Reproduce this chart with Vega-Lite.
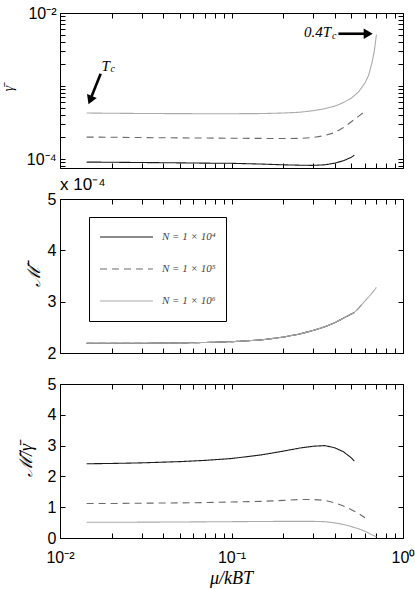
{
 "$schema": "https://vega.github.io/schema/vega-lite/v6.json",
 "background": "white",
 "padding": {"left": 0, "top": 4, "right": 0, "bottom": 0},
 "config": {
  "view": {"stroke": "black", "strokeWidth": 1},
  "axis": {"domain": false, "grid": false, "tickColor": "black", "tickSize": -5, "tickWidth": 1, "labelFont": "Liberation Sans", "labelFontSize": 16, "labelColor": "black", "labelPadding": 9, "titleFont": "Liberation Serif", "titleFontStyle": "italic", "titleFontWeight": "normal", "titleColor": "black", "labelFlush": false, "labelOverlap": false},
  "line": {"strokeWidth": 1.1}
 },
 "datasets": {
  "gam": [
   {"mu":0.0143,"N":"N = 1 × 10⁴","v":9.1e-5},{"mu":0.02,"N":"N = 1 × 10⁴","v":9.05e-5},{"mu":0.03,"N":"N = 1 × 10⁴","v":8.97e-5},{"mu":0.05,"N":"N = 1 × 10⁴","v":8.88e-5},{"mu":0.07,"N":"N = 1 × 10⁴","v":8.8e-5},{"mu":0.1,"N":"N = 1 × 10⁴","v":8.75e-5},{"mu":0.15,"N":"N = 1 × 10⁴","v":8.55e-5},{"mu":0.2,"N":"N = 1 × 10⁴","v":8.35e-5},{"mu":0.25,"N":"N = 1 × 10⁴","v":8.25e-5},{"mu":0.3,"N":"N = 1 × 10⁴","v":8.2e-5},{"mu":0.35,"N":"N = 1 × 10⁴","v":8.35e-5},{"mu":0.4,"N":"N = 1 × 10⁴","v":8.8e-5},{"mu":0.45,"N":"N = 1 × 10⁴","v":9.5e-5},{"mu":0.5,"N":"N = 1 × 10⁴","v":1.06e-4},{"mu":0.52,"N":"N = 1 × 10⁴","v":1.13e-4},
   {"mu":0.0143,"N":"N = 1 × 10⁵","v":2.0e-4},{"mu":0.02,"N":"N = 1 × 10⁵","v":1.99e-4},{"mu":0.03,"N":"N = 1 × 10⁵","v":1.97e-4},{"mu":0.05,"N":"N = 1 × 10⁵","v":1.95e-4},{"mu":0.07,"N":"N = 1 × 10⁵","v":1.94e-4},{"mu":0.1,"N":"N = 1 × 10⁵","v":1.93e-4},{"mu":0.15,"N":"N = 1 × 10⁵","v":1.92e-4},{"mu":0.2,"N":"N = 1 × 10⁵","v":1.91e-4},{"mu":0.25,"N":"N = 1 × 10⁵","v":1.92e-4},{"mu":0.3,"N":"N = 1 × 10⁵","v":1.98e-4},{"mu":0.35,"N":"N = 1 × 10⁵","v":2.1e-4},{"mu":0.4,"N":"N = 1 × 10⁵","v":2.3e-4},{"mu":0.45,"N":"N = 1 × 10⁵","v":2.7e-4},{"mu":0.5,"N":"N = 1 × 10⁵","v":3.25e-4},{"mu":0.55,"N":"N = 1 × 10⁵","v":3.85e-4},{"mu":0.6,"N":"N = 1 × 10⁵","v":4.5e-4},
   {"mu":0.0143,"N":"N = 1 × 10⁶","v":4.27e-4},{"mu":0.02,"N":"N = 1 × 10⁶","v":4.24e-4},{"mu":0.03,"N":"N = 1 × 10⁶","v":4.21e-4},{"mu":0.05,"N":"N = 1 × 10⁶","v":4.19e-4},{"mu":0.07,"N":"N = 1 × 10⁶","v":4.18e-4},{"mu":0.1,"N":"N = 1 × 10⁶","v":4.18e-4},{"mu":0.15,"N":"N = 1 × 10⁶","v":4.2e-4},{"mu":0.2,"N":"N = 1 × 10⁶","v":4.27e-4},{"mu":0.25,"N":"N = 1 × 10⁶","v":4.38e-4},{"mu":0.3,"N":"N = 1 × 10⁶","v":4.6e-4},{"mu":0.35,"N":"N = 1 × 10⁶","v":4.9e-4},{"mu":0.4,"N":"N = 1 × 10⁶","v":5.3e-4},{"mu":0.45,"N":"N = 1 × 10⁶","v":5.95e-4},{"mu":0.5,"N":"N = 1 × 10⁶","v":6.85e-4},{"mu":0.55,"N":"N = 1 × 10⁶","v":8.3e-4},{"mu":0.6,"N":"N = 1 × 10⁶","v":1.1e-3},{"mu":0.63,"N":"N = 1 × 10⁶","v":1.4e-3},{"mu":0.66,"N":"N = 1 × 10⁶","v":2.1e-3},{"mu":0.68,"N":"N = 1 × 10⁶","v":3.0e-3},{"mu":0.69,"N":"N = 1 × 10⁶","v":3.9e-3},{"mu":0.7,"N":"N = 1 × 10⁶","v":5.05e-3}
  ],
  "mm": [
   {"mu":0.0143,"N":"N = 1 × 10⁴","v":2.19},{"mu":0.02,"N":"N = 1 × 10⁴","v":2.19},{"mu":0.03,"N":"N = 1 × 10⁴","v":2.19},{"mu":0.05,"N":"N = 1 × 10⁴","v":2.195},{"mu":0.07,"N":"N = 1 × 10⁴","v":2.205},{"mu":0.1,"N":"N = 1 × 10⁴","v":2.22},{"mu":0.15,"N":"N = 1 × 10⁴","v":2.255},{"mu":0.2,"N":"N = 1 × 10⁴","v":2.31},{"mu":0.25,"N":"N = 1 × 10⁴","v":2.37},{"mu":0.3,"N":"N = 1 × 10⁴","v":2.44},{"mu":0.35,"N":"N = 1 × 10⁴","v":2.51},{"mu":0.4,"N":"N = 1 × 10⁴","v":2.59},{"mu":0.45,"N":"N = 1 × 10⁴","v":2.68},{"mu":0.5,"N":"N = 1 × 10⁴","v":2.76},{"mu":0.52,"N":"N = 1 × 10⁴","v":2.79},
   {"mu":0.0143,"N":"N = 1 × 10⁵","v":2.19},{"mu":0.02,"N":"N = 1 × 10⁵","v":2.19},{"mu":0.03,"N":"N = 1 × 10⁵","v":2.19},{"mu":0.05,"N":"N = 1 × 10⁵","v":2.195},{"mu":0.07,"N":"N = 1 × 10⁵","v":2.205},{"mu":0.1,"N":"N = 1 × 10⁵","v":2.22},{"mu":0.15,"N":"N = 1 × 10⁵","v":2.255},{"mu":0.2,"N":"N = 1 × 10⁵","v":2.31},{"mu":0.25,"N":"N = 1 × 10⁵","v":2.37},{"mu":0.3,"N":"N = 1 × 10⁵","v":2.44},{"mu":0.35,"N":"N = 1 × 10⁵","v":2.51},{"mu":0.4,"N":"N = 1 × 10⁵","v":2.59},{"mu":0.45,"N":"N = 1 × 10⁵","v":2.68},{"mu":0.5,"N":"N = 1 × 10⁵","v":2.76},{"mu":0.52,"N":"N = 1 × 10⁵","v":2.79},{"mu":0.55,"N":"N = 1 × 10⁵","v":2.87},{"mu":0.6,"N":"N = 1 × 10⁵","v":3.01},
   {"mu":0.0143,"N":"N = 1 × 10⁶","v":2.19},{"mu":0.02,"N":"N = 1 × 10⁶","v":2.19},{"mu":0.03,"N":"N = 1 × 10⁶","v":2.19},{"mu":0.05,"N":"N = 1 × 10⁶","v":2.195},{"mu":0.07,"N":"N = 1 × 10⁶","v":2.205},{"mu":0.1,"N":"N = 1 × 10⁶","v":2.22},{"mu":0.15,"N":"N = 1 × 10⁶","v":2.255},{"mu":0.2,"N":"N = 1 × 10⁶","v":2.31},{"mu":0.25,"N":"N = 1 × 10⁶","v":2.37},{"mu":0.3,"N":"N = 1 × 10⁶","v":2.44},{"mu":0.35,"N":"N = 1 × 10⁶","v":2.51},{"mu":0.4,"N":"N = 1 × 10⁶","v":2.59},{"mu":0.45,"N":"N = 1 × 10⁶","v":2.68},{"mu":0.5,"N":"N = 1 × 10⁶","v":2.76},{"mu":0.52,"N":"N = 1 × 10⁶","v":2.79},{"mu":0.55,"N":"N = 1 × 10⁶","v":2.87},{"mu":0.6,"N":"N = 1 × 10⁶","v":3.01},{"mu":0.65,"N":"N = 1 × 10⁶","v":3.14},{"mu":0.7,"N":"N = 1 × 10⁶","v":3.28}
  ],
  "rat": [
   {"mu":0.0143,"N":"N = 1 × 10⁴","v":2.41},{"mu":0.02,"N":"N = 1 × 10⁴","v":2.42},{"mu":0.03,"N":"N = 1 × 10⁴","v":2.44},{"mu":0.05,"N":"N = 1 × 10⁴","v":2.48},{"mu":0.07,"N":"N = 1 × 10⁴","v":2.52},{"mu":0.1,"N":"N = 1 × 10⁴","v":2.58},{"mu":0.15,"N":"N = 1 × 10⁴","v":2.7},{"mu":0.2,"N":"N = 1 × 10⁴","v":2.82},{"mu":0.25,"N":"N = 1 × 10⁴","v":2.92},{"mu":0.3,"N":"N = 1 × 10⁴","v":2.98},{"mu":0.35,"N":"N = 1 × 10⁴","v":3.0},{"mu":0.4,"N":"N = 1 × 10⁴","v":2.93},{"mu":0.45,"N":"N = 1 × 10⁴","v":2.8},{"mu":0.5,"N":"N = 1 × 10⁴","v":2.6},{"mu":0.52,"N":"N = 1 × 10⁴","v":2.5},
   {"mu":0.0143,"N":"N = 1 × 10⁵","v":1.12},{"mu":0.02,"N":"N = 1 × 10⁵","v":1.12},{"mu":0.03,"N":"N = 1 × 10⁵","v":1.13},{"mu":0.05,"N":"N = 1 × 10⁵","v":1.14},{"mu":0.07,"N":"N = 1 × 10⁵","v":1.15},{"mu":0.1,"N":"N = 1 × 10⁵","v":1.17},{"mu":0.15,"N":"N = 1 × 10⁵","v":1.19},{"mu":0.2,"N":"N = 1 × 10⁵","v":1.22},{"mu":0.25,"N":"N = 1 × 10⁵","v":1.25},{"mu":0.3,"N":"N = 1 × 10⁵","v":1.25},{"mu":0.35,"N":"N = 1 × 10⁵","v":1.22},{"mu":0.4,"N":"N = 1 × 10⁵","v":1.14},{"mu":0.45,"N":"N = 1 × 10⁵","v":1.04},{"mu":0.5,"N":"N = 1 × 10⁵","v":0.92},{"mu":0.55,"N":"N = 1 × 10⁵","v":0.8},{"mu":0.6,"N":"N = 1 × 10⁵","v":0.66},
   {"mu":0.0143,"N":"N = 1 × 10⁶","v":0.51},{"mu":0.02,"N":"N = 1 × 10⁶","v":0.51},{"mu":0.05,"N":"N = 1 × 10⁶","v":0.52},{"mu":0.1,"N":"N = 1 × 10⁶","v":0.53},{"mu":0.2,"N":"N = 1 × 10⁶","v":0.54},{"mu":0.3,"N":"N = 1 × 10⁶","v":0.54},{"mu":0.35,"N":"N = 1 × 10⁶","v":0.53},{"mu":0.4,"N":"N = 1 × 10⁶","v":0.49},{"mu":0.45,"N":"N = 1 × 10⁶","v":0.44},{"mu":0.5,"N":"N = 1 × 10⁶","v":0.37},{"mu":0.55,"N":"N = 1 × 10⁶","v":0.3},{"mu":0.6,"N":"N = 1 × 10⁶","v":0.22},{"mu":0.63,"N":"N = 1 × 10⁶","v":0.16},{"mu":0.66,"N":"N = 1 × 10⁶","v":0.1},{"mu":0.7,"N":"N = 1 × 10⁶","v":0.04}
  ],
  "arrows": [{"x":0.01726,"y":0.001476,"x2":0.01505,"y2":0.00066},{"x":0.42,"y":0.0052,"x2":0.62,"y2":0.0052}],
  "heads": [{"x":0.0150,"y":0.000641,"ang":202},{"x":0.627,"y":0.0052,"ang":90}],
  "annmain": [{"x":0.01847,"y":0.0019,"t":"T"},{"x":0.318,"y":0.00542,"t":"0.4T"}],
  "annsub": [{"x":0.0203,"y":0.00172,"t":"c"},{"x":0.397,"y":0.00488,"t":"c"}]
 },
 "spacing": 31,
 "bounds": "flush",
 "resolve": {"scale": {"color": "independent", "strokeDash": "independent"}, "legend": {"color": "independent", "strokeDash": "independent"}},
 "vconcat": [
  {
   "width": 343, "height": 155,
   "resolve": {"axis": {"x": "independent", "y": "independent"}},
   "layer": [
    {
     "data": {"name": "gam"},
     "mark": {"type": "line"},
     "encoding": {
      "x": {"field": "mu", "type": "quantitative", "scale": {"type": "log", "domain": [0.01, 1], "nice": false}, "axis": {"values": [0.01,0.02,0.03,0.04,0.05,0.06,0.07,0.08,0.09,0.1,0.2,0.3,0.4,0.5,0.6,0.7,0.8,0.9,1], "labels": false, "title": null}},
      "y": {"field": "v", "type": "quantitative", "scale": {"type": "log", "domain": [7.55e-5, 0.01], "nice": false}, "axis": {"values": [8e-5,9e-5,1e-4,2e-4,3e-4,4e-4,5e-4,6e-4,7e-4,8e-4,9e-4,1e-3,2e-3,3e-3,4e-3,5e-3,6e-3,7e-3,8e-3,9e-3,1e-2], "labelExpr": "datum.value == 0.01 ? '10⁻²' : datum.value == 0.0001 ? '10⁻⁴' : ''", "title": "γ̄", "titleFontSize": 14, "titleX": -52, "titleY": 75, "titleAlign": "center", "titleBaseline": "middle", "titleAngle": -90}},
      "color": {"field": "N", "type": "nominal", "scale": {"domain": ["N = 1 × 10⁴", "N = 1 × 10⁵", "N = 1 × 10⁶"], "range": ["#1a1a1a", "#6a6a6a", "#ababab"]}, "legend": null},
      "strokeDash": {"field": "N", "type": "nominal", "scale": {"domain": ["N = 1 × 10⁴", "N = 1 × 10⁵", "N = 1 × 10⁶"], "range": [[1, 0], [7, 5], [1, 0]]}, "legend": null}
     }
    },
    {
     "data": {"name": "gam"},
     "mark": {"type": "line", "opacity": 0},
     "encoding": {
      "x": {"field": "mu", "type": "quantitative", "scale": {"type": "log", "domain": [0.01, 1], "nice": false}, "axis": {"orient": "top", "values": [0.01,0.02,0.03,0.04,0.05,0.06,0.07,0.08,0.09,0.1,0.2,0.3,0.4,0.5,0.6,0.7,0.8,0.9,1], "labels": false, "title": null}},
      "y": {"field": "v", "type": "quantitative", "scale": {"type": "log", "domain": [7.55e-5, 0.01], "nice": false}, "axis": {"orient": "right", "values": [8e-5,9e-5,1e-4,2e-4,3e-4,4e-4,5e-4,6e-4,7e-4,8e-4,9e-4,1e-3,2e-3,3e-3,4e-3,5e-3,6e-3,7e-3,8e-3,9e-3,1e-2], "labels": false, "title": null}}
     }
    },
    {
     "data": {"name": "arrows"},
     "mark": {"type": "rule", "strokeWidth": 2.6, "color": "black"},
     "encoding": {
      "x": {"field": "x", "type": "quantitative", "scale": {"type": "log", "domain": [0.01, 1], "nice": false}, "axis": null},
      "y": {"field": "y", "type": "quantitative", "scale": {"type": "log", "domain": [7.55e-5, 0.01], "nice": false}, "axis": null},
      "x2": {"field": "x2"},
      "y2": {"field": "y2"}
     }
    },
    {
     "data": {"name": "heads"},
     "mark": {"type": "point", "shape": "triangle-up", "filled": true, "color": "black", "size": 110, "opacity": 1},
     "encoding": {
      "x": {"field": "x", "type": "quantitative", "scale": {"type": "log", "domain": [0.01, 1], "nice": false}, "axis": null},
      "y": {"field": "y", "type": "quantitative", "scale": {"type": "log", "domain": [7.55e-5, 0.01], "nice": false}, "axis": null},
      "angle": {"field": "ang", "type": "quantitative", "scale": null}
     }
    },
    {
     "data": {"name": "annmain"},
     "mark": {"type": "text", "font": "Liberation Serif", "fontStyle": "italic", "fontSize": 15, "align": "center", "baseline": "middle", "color": "black"},
     "encoding": {
      "x": {"field": "x", "type": "quantitative", "scale": {"type": "log", "domain": [0.01, 1], "nice": false}, "axis": null},
      "y": {"field": "y", "type": "quantitative", "scale": {"type": "log", "domain": [7.55e-5, 0.01], "nice": false}, "axis": null},
      "text": {"field": "t"}
     }
    },
    {
     "data": {"name": "annsub"},
     "mark": {"type": "text", "font": "Liberation Serif", "fontStyle": "italic", "fontSize": 10, "align": "center", "baseline": "middle", "color": "black"},
     "encoding": {
      "x": {"field": "x", "type": "quantitative", "scale": {"type": "log", "domain": [0.01, 1], "nice": false}, "axis": null},
      "y": {"field": "y", "type": "quantitative", "scale": {"type": "log", "domain": [7.55e-5, 0.01], "nice": false}, "axis": null},
      "text": {"field": "t"}
     }
    }
   ]
  },
  {
   "width": 343, "height": 154,
   "title": {"text": "x 10⁻⁴", "anchor": "start", "frame": "group", "font": "Liberation Sans", "fontSize": 17, "fontWeight": "normal", "color": "black", "offset": -3},
   "resolve": {"axis": {"x": "independent", "y": "independent"}},
   "layer": [
    {
     "data": {"name": "mm"},
     "mark": {"type": "line"},
     "encoding": {
      "x": {"field": "mu", "type": "quantitative", "scale": {"type": "log", "domain": [0.01, 1], "nice": false}, "axis": {"values": [0.01,0.02,0.03,0.04,0.05,0.06,0.07,0.08,0.09,0.1,0.2,0.3,0.4,0.5,0.6,0.7,0.8,0.9,1], "labels": false, "title": null}},
      "y": {"field": "v", "type": "quantitative", "scale": {"domain": [2, 5], "nice": false}, "axis": {"values": [2, 3, 4, 5], "title": "ℳ̄", "titleFontSize": 18, "titleX": -26, "titleY": 77, "titleAlign": "center", "titleBaseline": "middle", "titleAngle": -90}},
      "color": {"field": "N", "type": "nominal", "scale": {"domain": ["N = 1 × 10⁴", "N = 1 × 10⁵", "N = 1 × 10⁶"], "range": ["#1a1a1a", "#6a6a6a", "#ababab"]}, "legend": {"orient": "none", "legendX": 29, "legendY": 18, "title": null, "strokeColor": "black", "fillColor": "white", "padding": 10, "symbolType": "stroke", "symbolSize": 2800, "symbolStrokeWidth": 1.3, "clipHeight": 20, "rowPadding": 12, "labelFont": "Liberation Serif", "labelFontStyle": "italic", "labelFontSize": 11, "labelColor": "#444", "labelOffset": 8}},
      "strokeDash": {"field": "N", "type": "nominal", "scale": {"domain": ["N = 1 × 10⁴", "N = 1 × 10⁵", "N = 1 × 10⁶"], "range": [[1, 0], [7, 5], [1, 0]]}, "legend": {"orient": "none", "legendX": 29, "legendY": 18, "title": null, "strokeColor": "black", "fillColor": "white", "padding": 10, "symbolType": "stroke", "symbolSize": 2800, "symbolStrokeWidth": 1.3, "clipHeight": 20, "rowPadding": 12, "labelFont": "Liberation Serif", "labelFontStyle": "italic", "labelFontSize": 11, "labelColor": "#444", "labelOffset": 8}}
     }
    },
    {
     "data": {"name": "mm"},
     "mark": {"type": "line", "opacity": 0},
     "encoding": {
      "x": {"field": "mu", "type": "quantitative", "scale": {"type": "log", "domain": [0.01, 1], "nice": false}, "axis": {"orient": "top", "values": [0.01,0.02,0.03,0.04,0.05,0.06,0.07,0.08,0.09,0.1,0.2,0.3,0.4,0.5,0.6,0.7,0.8,0.9,1], "labels": false, "title": null}},
      "y": {"field": "v", "type": "quantitative", "scale": {"domain": [2, 5], "nice": false}, "axis": {"orient": "right", "values": [2, 3, 4, 5], "labels": false, "title": null}}
     }
    }
   ]
  },
  {
   "width": 343, "height": 154,
   "resolve": {"axis": {"x": "independent", "y": "independent"}},
   "layer": [
    {
     "data": {"name": "rat"},
     "mark": {"type": "line"},
     "encoding": {
      "x": {"field": "mu", "type": "quantitative", "scale": {"type": "log", "domain": [0.01, 1], "nice": false}, "axis": {"values": [0.01,0.02,0.03,0.04,0.05,0.06,0.07,0.08,0.09,0.1,0.2,0.3,0.4,0.5,0.6,0.7,0.8,0.9,1], "labelExpr": "datum.value == 0.01 ? '10⁻²' : datum.value == 0.1 ? '10⁻¹' : datum.value == 1 ? '10⁰' : ''", "labelPadding": 16, "title": "μ/kBT", "titleFontSize": 18, "titleX": 171, "titleY": 40, "titleAlign": "center", "titleBaseline": "middle"}},
      "y": {"field": "v", "type": "quantitative", "scale": {"domain": [0, 5], "nice": false}, "axis": {"values": [0, 1, 2, 3, 4, 5], "title": "ℳ̄/γ̄", "titleFontSize": 18, "titleX": -34, "titleY": 76, "titleAlign": "center", "titleBaseline": "middle", "titleAngle": -90}},
      "color": {"field": "N", "type": "nominal", "scale": {"domain": ["N = 1 × 10⁴", "N = 1 × 10⁵", "N = 1 × 10⁶"], "range": ["#1a1a1a", "#6a6a6a", "#ababab"]}, "legend": null},
      "strokeDash": {"field": "N", "type": "nominal", "scale": {"domain": ["N = 1 × 10⁴", "N = 1 × 10⁵", "N = 1 × 10⁶"], "range": [[1, 0], [7, 5], [1, 0]]}, "legend": null}
     }
    },
    {
     "data": {"name": "rat"},
     "mark": {"type": "line", "opacity": 0},
     "encoding": {
      "x": {"field": "mu", "type": "quantitative", "scale": {"type": "log", "domain": [0.01, 1], "nice": false}, "axis": {"orient": "top", "values": [0.01,0.02,0.03,0.04,0.05,0.06,0.07,0.08,0.09,0.1,0.2,0.3,0.4,0.5,0.6,0.7,0.8,0.9,1], "labels": false, "title": null}},
      "y": {"field": "v", "type": "quantitative", "scale": {"domain": [0, 5], "nice": false}, "axis": {"orient": "right", "values": [0, 1, 2, 3, 4, 5], "labels": false, "title": null}}
     }
    }
   ]
  }
 ]
}
